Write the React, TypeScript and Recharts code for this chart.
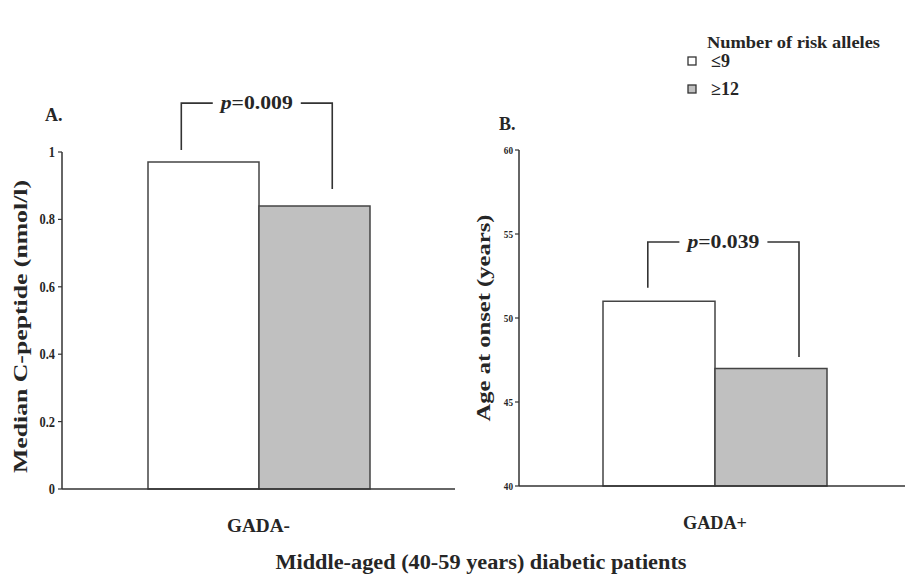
import React from 'react';
import { BarChart, Bar, XAxis, YAxis } from 'recharts';

const alleleGroups = ['≤9', '≥12'];
const alleleFills = ['#ffffff', '#c0c0c0'];
const legendTitle = 'Number of risk alleles';

const panelACategories = ['GADA-'];
const panelALow = [0.97];
const panelAHigh = [0.84];
const panelATicks = [0, 0.2, 0.4, 0.6, 0.8, 1];

const panelBCategories = ['GADA+'];
const panelBLow = [51.0];
const panelBHigh = [47.0];
const panelBTicks = [40, 45, 50, 55, 60];

const bracketA = { p: '0.009', top: 1.145, leftEnd: 1.006, rightEnd: 0.89 };
const bracketB = { p: '0.039', top: 54.52, leftEnd: 51.8, rightEnd: 47.68 };

const dataA = panelACategories.map((c, i) => ({ cat: c, low: panelALow[i], high: panelAHigh[i] }));
const dataB = panelBCategories.map((c, i) => ({ cat: c, low: panelBLow[i], high: panelBHigh[i] }));

const FONT = "'Liberation Serif', 'Times New Roman', Times, serif";
const INK = '#262626';
const fontStyle = { fontFamily: FONT };

function makeBracket(b: any, domainMin: number, lf: number, rf: number) {
  return (props: any) => {
    const vb = props.viewBox || props;
    const x = Number(vb.x);
    const y = Number(vb.y);
    const width = Number(vb.width);
    const height = Number(vb.height);
    let v = props.value;
    if (Array.isArray(v)) v = v[1];
    const base = y + height;
    const ppu = height / (Number(v) - domainMin);
    const toY = (d: number) => base - (d - domainMin) * ppu;
    const wx = x - width;
    const lx = wx + width * lf;
    const rx = x + width * rf;
    const ty = toY(b.top);
    const mid = (lx + rx) / 2;
    const half = 44;
    return (
      <g>
        <path
          d={`M${lx},${toY(b.leftEnd)}V${ty}H${mid - half}M${mid + half},${ty}H${rx}V${toY(b.rightEnd)}`}
          stroke="#333"
          strokeWidth={1.6}
          fill="none"
        />
        <text
          x={mid}
          y={ty + 6}
          textAnchor="middle"
          style={fontStyle}
          fontWeight="bold"
          fontSize={19}
          fill={INK}
          textLength={72}
          lengthAdjust="spacingAndGlyphs"
        >
          <tspan fontStyle="italic">p</tspan>={b.p}
        </text>
      </g>
    );
  };
}

function YTitle(props: any) {
  const { viewBox, text, dx, dy, len, size } = props;
  const cx = viewBox.x + dx;
  const cy = viewBox.y + viewBox.height / 2 + dy;
  return (
    <text
      transform={`translate(${cx},${cy}) rotate(-90)`}
      textAnchor="middle"
      dominantBaseline="central"
      style={fontStyle}
      fontWeight="bold"
      fontSize={size}
      fill={INK}
      textLength={len}
      lengthAdjust="spacingAndGlyphs"
    >
      {text}
    </text>
  );
}

function YTick(props: any) {
  const { x, y, payload, size, digitW } = props;
  const s = String(payload.value);
  let len = 0;
  for (const ch of s) len += ch === '.' ? digitW * 0.5 : digitW;
  return (
    <text
      x={x}
      y={y}
      textAnchor="end"
      dominantBaseline="central"
      style={fontStyle}
      fontWeight="bold"
      fontSize={size}
      fill={INK}
      textLength={len}
      lengthAdjust="spacingAndGlyphs"
    >
      {s}
    </text>
  );
}

function XTick(props: any) {
  const { x, y, payload, len } = props;
  return (
    <text
      x={x}
      y={y + 43}
      textAnchor="middle"
      style={fontStyle}
      fontWeight="bold"
      fontSize={19}
      fill={INK}
      textLength={len}
      lengthAdjust="spacingAndGlyphs"
    >
      {payload.value}
    </text>
  );
}

const axisLineStyle = { stroke: '#333', strokeWidth: 1.5 };

export default function App() {
  return (
    <div style={{ position: 'absolute', left: 0, top: 0, width: 906, height: 588, background: '#fff' }}>
      <div style={{ position: 'absolute', left: 0, top: 0 }}>
        <BarChart
          width={470}
          height={588}
          data={dataA}
          margin={{ top: 152, right: 15, left: 22, bottom: 39 }}
          barSize={111}
          barGap={0}
        >
          <XAxis
            dataKey="cat"
            height={60}
            axisLine={axisLineStyle}
            tickLine={false}
            tickSize={0}
            tickMargin={0}
            tick={<XTick len={63} />}
          />
          <YAxis
            width={40}
            domain={[0, 1]}
            ticks={panelATicks}
            axisLine={axisLineStyle}
            tickLine={{ stroke: '#333', strokeWidth: 1.2 }}
            tickSize={4}
            tickMargin={3}
            tick={<YTick size={15} digitW={6.2} />}
            label={<YTitle text="Median C-peptide (nmol/l)" dx={-2} dy={6} len={293} size={19} />}
          />
          <Bar dataKey="low" name={alleleGroups[0]} fill={alleleFills[0]} stroke="#444" strokeWidth={1.5} isAnimationActive={false} />
          <Bar
            dataKey="high"
            name={alleleGroups[1]}
            fill={alleleFills[1]}
            stroke="#444"
            strokeWidth={1.5}
            isAnimationActive={false}
            label={makeBracket(bracketA, 0, 0.3, 0.66)}
          />
        </BarChart>
      </div>
      <div style={{ position: 'absolute', left: 460, top: 0 }}>
        <BarChart
          width={446}
          height={588}
          data={dataB}
          margin={{ top: 150, right: 1, left: 19, bottom: 42 }}
          barSize={112}
          barGap={0}
        >
          <XAxis
            dataKey="cat"
            height={60}
            padding={{ left: 6, right: 0 }}
            axisLine={axisLineStyle}
            tickLine={false}
            tickSize={0}
            tickMargin={0}
            tick={<XTick len={64} />}
          />
          <YAxis
            width={40}
            domain={[40, 60]}
            ticks={panelBTicks}
            axisLine={axisLineStyle}
            tickLine={{ stroke: '#333', strokeWidth: 1.2 }}
            tickSize={4}
            tickMargin={2}
            tick={<YTick size={11} digitW={4.6} />}
            label={<YTitle text="Age at onset (years)" dx={5} dy={0} len={207} size={18} />}
          />
          <Bar dataKey="low" name={alleleGroups[0]} fill={alleleFills[0]} stroke="#444" strokeWidth={1.5} isAnimationActive={false} />
          <Bar
            dataKey="high"
            name={alleleGroups[1]}
            fill={alleleFills[1]}
            stroke="#444"
            strokeWidth={1.5}
            isAnimationActive={false}
            label={makeBracket(bracketB, 40, 0.4, 0.75)}
          />
        </BarChart>
      </div>
      <svg
        width={906}
        height={588}
        style={{ position: 'absolute', left: 0, top: 0, pointerEvents: 'none' }}
      >
        <text x={45} y={121} style={fontStyle} fontWeight="bold" fontSize={18} fill={INK}>
          A.
        </text>
        <text x={499} y={130} style={fontStyle} fontWeight="bold" fontSize={18} fill={INK}>
          B.
        </text>
        <text
          x={707}
          y={48}
          style={fontStyle}
          fontWeight="bold"
          fontSize={16}
          fill={INK}
          textLength={173}
          lengthAdjust="spacingAndGlyphs"
        >
          {legendTitle}
        </text>
        {alleleGroups.map((g, i) => (
          <g key={g}>
            <rect x={688} y={57 + i * 28} width={8} height={8} fill={alleleFills[i]} stroke="#333" strokeWidth={1.3} />
            <text x={711} y={67 + i * 28} style={fontStyle} fontWeight="bold" fontSize={18} fill={INK}>
              {g}
            </text>
          </g>
        ))}
        <text
          x={481}
          y={569}
          textAnchor="middle"
          style={fontStyle}
          fontWeight="bold"
          fontSize={20}
          fill={INK}
          textLength={411}
          lengthAdjust="spacingAndGlyphs"
        >
          Middle-aged (40-59 years) diabetic patients
        </text>
      </svg>
    </div>
  );
}
